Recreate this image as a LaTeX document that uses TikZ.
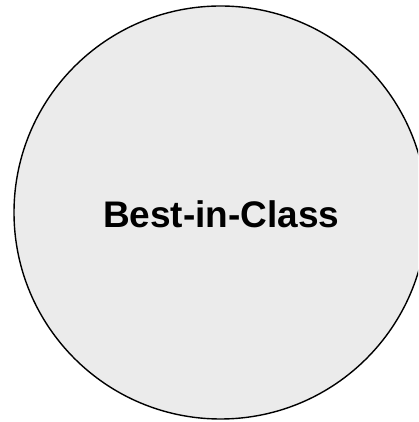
\documentclass[tikz,border=0pt]{standalone}
\usepackage{fontspec}
\setmainfont{Liberation Sans}
\definecolor{circfill}{HTML}{EBEBEB}
\begin{document}
\begin{tikzpicture}[x=1pt,y=1pt,
  bigcirc/.style={circle,draw=black,line width=1.4pt,fill=circfill,minimum size=413pt,inner sep=0pt},
  lbl/.style={font=\fontsize{37}{44}\selectfont\bfseries,inner sep=0pt,anchor=base}]
\useasboundingbox (0,0) rectangle (418,422);
\begin{scope}
\clip (0,0) rectangle (418,422);
\node[bigcirc] (c) at (220.5,209.5) {};
\end{scope}
\node[lbl] (t) at (221.3,194.7) {Best-in-Class};
\end{tikzpicture}
\end{document}
